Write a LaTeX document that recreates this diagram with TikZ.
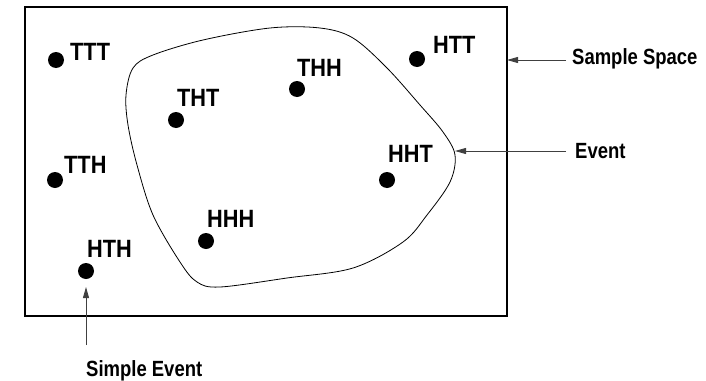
\documentclass[tikz,border=0pt]{standalone}
\usepackage{fontspec}
\setmainfont{Liberation Sans}
\newfontfamily\labfont[FakeStretch=0.87]{Liberation Sans}
\newfontfamily\calfont[FakeStretch=0.84]{Liberation Sans}
\usetikzlibrary{arrows.meta}
\tikzset{
  pt/.style={circle,fill=black,inner sep=0pt,minimum size=16pt},
  lab/.style={anchor=base west,inner sep=0pt,font=\labfont\bfseries\fontsize{25}{27}\selectfont},
  callout/.style={anchor=base west,inner sep=0pt,font=\calfont\bfseries\fontsize{22}{24}\selectfont},
  pointer/.style={draw=black!75,line width=0.9pt,-{Triangle[length=11pt,width=6pt]}},
}
\begin{document}
\begin{tikzpicture}[x=1pt,y=-1pt]
\useasboundingbox (0,0) rectangle (706,380);
% sample space
\draw[line width=1.8pt] (25,7) rectangle (507,316);
% event blob
\draw[line width=0.8pt] plot[smooth cycle,tension=0.55] coordinates {
 (126,95) (133,68) (153,55) (203,40) (270,28) (320,28) (353,38) (387,68)
 (420,105) (443,132) (455,155) (450,182) (427,215) (403,242) (353,268)
 (287,278) (220,287) (197,282) (180,262) (153,215) (137,165) (128,125)};
% points
\node[pt] (ttt) at (56,60) {};
\node[pt] (thh) at (297,89) {};
\node[pt] (tht) at (176,120) {};
\node[pt] (tth) at (55,180) {};
\node[pt] (htt) at (417,59) {};
\node[pt] (hht) at (387,180) {};
\node[pt] (hhh) at (206,241) {};
\node[pt] (hth) at (86,271) {};
% labels
\node[lab] (lttt) at (70,60) {TTT};
\node[lab] (lthh) at (297,76) {THH};
\node[lab] (ltht) at (177,106) {THT};
\node[lab] (ltth) at (64,173) {TTH};
\node[lab] (lhtt) at (433,53) {HTT};
\node[lab] (lhht) at (388,162) {HHT};
\node[lab] (lhhh) at (207,227) {HHH};
\node[lab] (lhth) at (87,257) {HTH};
% callouts
\node[callout] (ss) at (572,64) {Sample Space};
\node[callout] (ev) at (575,158) {Event};
\node[callout] (se) at (86,376) {Simple Event};
\coordinate (ssfrom) at (566,60);
\coordinate (ssto) at (507,60);
\coordinate (evfrom) at (566,151);
\coordinate (evto) at (455,151);
\coordinate (sefrom) at (86,345);
\coordinate (seto) at (86,287);
\draw[pointer] (ssfrom) -- (ssto);
\draw[pointer] (evfrom) -- (evto);
\draw[pointer] (sefrom) -- (seto);
\end{tikzpicture}
\end{document}
